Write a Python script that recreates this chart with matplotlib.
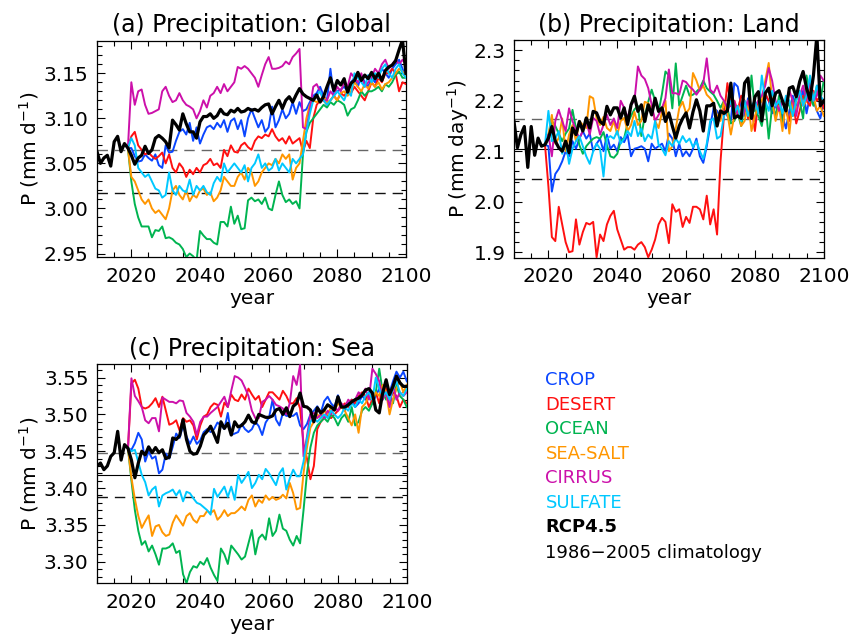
import numpy as np
import matplotlib
matplotlib.use("Agg")
import matplotlib.pyplot as plt
from matplotlib.ticker import MultipleLocator, FormatStrFormatter

plt.rcParams['font.family'] = ['DejaVu Sans']
plt.rcParams['lines.scale_dashes'] = False

# ---------------- DATA ----------------
rcp_start = 2010
exp_start = 2019
legend_names = ['CROP', 'DESERT', 'OCEAN', 'SEA-SALT', 'CIRRUS', 'SULFATE']

# Panel (a) Global
glob_rcp = [3.063, 3.050, 3.056, 3.059, 3.047, 3.074, 3.080, 3.063, 3.072, 3.067,
            3.059, 3.049, 3.056, 3.059, 3.069, 3.061, 3.065, 3.078, 3.081, 3.078,
            3.074, 3.067, 3.098, 3.093, 3.087, 3.105, 3.094, 3.085, 3.085, 3.078,
            3.096, 3.102, 3.102, 3.105, 3.100, 3.103, 3.110, 3.105, 3.104, 3.109,
            3.107, 3.111, 3.107, 3.108, 3.111, 3.109, 3.110, 3.108, 3.112, 3.115,
            3.116, 3.105, 3.113, 3.120, 3.111, 3.120, 3.124, 3.118, 3.126, 3.133,
            3.127, 3.124, 3.122, 3.120, 3.126, 3.118, 3.124, 3.135, 3.145, 3.131,
            3.142, 3.137, 3.144, 3.129, 3.139, 3.142, 3.151, 3.142, 3.148, 3.144,
            3.151, 3.144, 3.150, 3.142, 3.153, 3.157, 3.159, 3.164, 3.176, 3.187,
            3.150]
glob_crop = [3.067,
             3.067, 3.058, 3.052, 3.053, 3.060, 3.056, 3.053, 3.060, 3.048, 3.045,
             3.070, 3.062, 3.063, 3.075, 3.085, 3.088, 3.082, 3.095, 3.075, 3.090,
             3.072, 3.082, 3.090, 3.092, 3.088, 3.095, 3.090, 3.098, 3.085, 3.097,
             3.100, 3.088, 3.098, 3.080, 3.100, 3.110, 3.100, 3.090, 3.098, 3.085,
             3.090, 3.113, 3.090, 3.098, 3.110, 3.100, 3.105, 3.118, 3.105, 3.118,
             3.108, 3.110, 3.118, 3.125, 3.128, 3.135, 3.125, 3.120, 3.155, 3.125,
             3.130, 3.132, 3.135, 3.130, 3.140, 3.145, 3.135, 3.148, 3.140, 3.135,
             3.145, 3.140, 3.148, 3.155, 3.150, 3.145, 3.155, 3.160, 3.165, 3.155,
             3.145]
glob_desert = [3.067,
               3.080, 3.085, 3.070, 3.065, 3.060, 3.062, 3.058, 3.055, 3.058, 3.062,
               3.050, 3.060, 3.045, 3.040, 3.050, 3.045, 3.035, 3.043, 3.038, 3.045,
               3.040, 3.048, 3.050, 3.055, 3.048, 3.050, 3.045, 3.065, 3.058, 3.070,
               3.063, 3.062, 3.070, 3.073, 3.068, 3.065, 3.075, 3.080, 3.078, 3.082,
               3.080, 3.088, 3.080, 3.075, 3.078, 3.072, 3.080, 3.072, 3.075, 3.078,
               3.063, 3.075, 3.067, 3.100, 3.115, 3.120, 3.120, 3.115, 3.120, 3.125,
               3.120, 3.128, 3.125, 3.130, 3.128, 3.135, 3.130, 3.125, 3.120, 3.130,
               3.140, 3.135, 3.145, 3.140, 3.150, 3.150, 3.155, 3.150, 3.130, 3.140,
               3.138]
glob_ocean = [3.067,
              3.030, 3.005, 2.990, 2.980, 2.980, 2.980, 2.968, 2.976, 2.975, 2.980,
              2.967, 2.968, 2.966, 2.962, 2.960, 2.955, 2.946, 2.950, 2.947, 2.942,
              2.975, 2.970, 2.966, 2.966, 2.962, 2.960, 2.985, 2.985, 2.980, 3.002,
              2.983, 2.992, 2.977, 2.978, 3.009, 3.012, 3.008, 3.010, 3.005, 3.012,
              3.000, 2.998, 3.015, 3.030, 3.015, 3.007, 3.010, 3.005, 3.008, 3.000,
              3.060, 3.085, 3.095, 3.100, 3.105, 3.110, 3.115, 3.112, 3.118, 3.115,
              3.120, 3.118, 3.115, 3.103, 3.110, 3.112, 3.120, 3.130, 3.125, 3.130,
              3.130, 3.132, 3.135, 3.130, 3.138, 3.135, 3.140, 3.148, 3.152, 3.145,
              3.145]
glob_seasalt = [3.067,
                3.035, 3.030, 3.020, 3.010, 3.005, 3.010, 3.000, 2.995, 2.998, 2.993,
                2.988, 3.000, 3.020, 3.025, 3.015, 3.010, 3.020, 3.008, 3.015, 3.012,
                3.020, 3.022, 3.015, 3.018, 3.008, 3.012, 3.020, 3.035, 3.030, 3.025,
                3.025, 3.035, 3.040, 3.032, 3.045, 3.040, 3.025, 3.030, 3.040, 3.045,
                3.050, 3.048, 3.055, 3.050, 3.060, 3.055, 3.060, 3.032, 3.045, 3.050,
                3.075, 3.100, 3.115, 3.120, 3.118, 3.120, 3.125, 3.118, 3.120, 3.125,
                3.120, 3.128, 3.130, 3.125, 3.130, 3.140, 3.135, 3.130, 3.138, 3.133,
                3.140, 3.135, 3.140, 3.132, 3.138, 3.140, 3.145, 3.150, 3.155, 3.152,
                3.145]
glob_cirrus = [3.067,
               3.140, 3.115, 3.130, 3.132, 3.115, 3.105, 3.106, 3.108, 3.110, 3.130,
               3.135, 3.125, 3.118, 3.120, 3.128, 3.120, 3.115, 3.113, 3.110, 3.100,
               3.108, 3.120, 3.112, 3.125, 3.128, 3.135, 3.128, 3.138, 3.130, 3.135,
               3.140, 3.157, 3.155, 3.158, 3.155, 3.150, 3.145, 3.135, 3.148, 3.160,
               3.168, 3.155, 3.155, 3.156, 3.158, 3.163, 3.160, 3.168, 3.172, 3.177,
               3.090, 3.088, 3.110, 3.135, 3.138, 3.130, 3.120, 3.120, 3.130, 3.125,
               3.135, 3.130, 3.140, 3.135, 3.150, 3.145, 3.140, 3.150, 3.135, 3.140,
               3.145, 3.155, 3.150, 3.160, 3.165, 3.155, 3.160, 3.165, 3.160, 3.165,
               3.160]
glob_sulfate = [3.067,
                3.078, 3.070, 3.045, 3.040, 3.035, 3.038, 3.030, 3.022, 3.020, 3.012,
                3.015, 3.040, 3.020, 3.015, 3.025, 3.020, 3.018, 3.032, 3.015, 3.025,
                3.020, 3.025, 3.018, 3.015, 3.028, 3.035, 3.030, 3.050, 3.040, 3.045,
                3.050, 3.045, 3.040, 3.048, 3.030, 3.045, 3.050, 3.060, 3.045, 3.050,
                3.042, 3.045, 3.055, 3.042, 3.050, 3.045, 3.040, 3.055, 3.050, 3.055,
                3.060, 3.085, 3.105, 3.120, 3.125, 3.130, 3.120, 3.115, 3.120, 3.125,
                3.130, 3.125, 3.120, 3.130, 3.125, 3.150, 3.145, 3.140, 3.135, 3.148,
                3.140, 3.150, 3.145, 3.155, 3.160, 3.150, 3.145, 3.155, 3.160, 3.150,
                3.145]
glob_clim = [3.0408, 3.0170, 3.0648]   # mean, mean-sd, mean+sd

# Panel (b) Land
land_rcp = [2.159, 2.107, 2.133, 2.149, 2.068, 2.149, 2.092, 2.126, 2.110, 2.113,
            2.126, 2.149, 2.120, 2.107, 2.100, 2.120, 2.097, 2.146, 2.133, 2.159,
            2.140, 2.166, 2.146, 2.179, 2.176, 2.159, 2.153, 2.189, 2.172, 2.186,
            2.186, 2.166, 2.186, 2.153, 2.192, 2.209, 2.179, 2.192, 2.159, 2.192,
            2.172, 2.205, 2.179, 2.186, 2.159, 2.176, 2.150, 2.126, 2.150, 2.165,
            2.176, 2.146, 2.178, 2.202, 2.180, 2.140, 2.190, 2.190, 2.195, 2.150,
            2.180, 2.175, 2.180, 2.235, 2.166, 2.170, 2.165, 2.235, 2.245, 2.165,
            2.208, 2.218, 2.160, 2.215, 2.225, 2.190, 2.215, 2.220, 2.200, 2.180,
            2.225, 2.228, 2.208, 2.238, 2.258, 2.225, 2.202, 2.250, 2.330, 2.190,
            2.200]
land_crop = [2.113,
             2.110, 2.020, 2.055, 2.065, 2.080, 2.100, 2.090, 2.120, 2.105, 2.125,
             2.140, 2.125, 2.135, 2.100, 2.115, 2.125, 2.100, 2.133, 2.105, 2.113,
             2.100, 2.128, 2.118, 2.133, 2.090, 2.105, 2.107, 2.110, 2.105, 2.080,
             2.115, 2.105, 2.110, 2.115, 2.100, 2.135, 2.125, 2.090, 2.115, 2.090,
             2.100, 2.090, 2.105, 2.125, 2.090, 2.077, 2.110, 2.150, 2.185, 2.180,
             2.165, 2.185, 2.170, 2.160, 2.235, 2.228, 2.190, 2.170, 2.205, 2.180,
             2.160, 2.195, 2.175, 2.210, 2.200, 2.175, 2.190, 2.200, 2.170, 2.145,
             2.180, 2.210, 2.190, 2.200, 2.220, 2.175, 2.210, 2.200, 2.180, 2.165,
             2.200]
land_desert = [2.113,
               2.030, 1.930, 1.922, 1.990, 1.955, 1.920, 1.900, 1.902, 1.965, 1.915,
               1.940, 1.958, 1.955, 1.960, 1.890, 1.935, 1.922, 1.955, 1.972, 1.982,
               1.945, 1.925, 1.905, 1.910, 1.910, 1.905, 1.915, 1.920, 1.910, 1.890,
               1.905, 1.925, 1.955, 1.968, 1.960, 1.918, 1.995, 1.980, 1.985, 1.950,
               1.970, 1.958, 1.990, 1.990, 1.985, 1.965, 2.012, 1.955, 1.985, 1.935,
               2.080, 2.170, 2.235, 2.190, 2.200, 2.180, 2.210, 2.200, 2.165, 2.185,
               2.140, 2.200, 2.180, 2.215, 2.200, 2.190, 2.170, 2.195, 2.200, 2.180,
               2.160, 2.200, 2.155, 2.180, 2.210, 2.200, 2.190, 2.220, 2.200, 2.210,
               2.185]
land_ocean = [2.113,
              2.133, 2.160, 2.150, 2.135, 2.120, 2.135, 2.145, 2.182, 2.145, 2.112,
              2.095, 2.110, 2.118, 2.125, 2.128, 2.125, 2.138, 2.112, 2.090, 2.087,
              2.095, 2.120, 2.126, 2.155, 2.170, 2.183, 2.190, 2.130, 2.170, 2.198,
              2.222, 2.200, 2.178, 2.214, 2.258, 2.250, 2.185, 2.274, 2.190, 2.210,
              2.230, 2.210, 2.212, 2.218, 2.225, 2.240, 2.225, 2.218, 2.212, 2.200,
              2.186, 2.200, 2.186, 2.155, 2.160, 2.175, 2.150, 2.190, 2.170, 2.250,
              2.180, 2.170, 2.150, 2.200, 2.125, 2.190, 2.170, 2.210, 2.150, 2.200,
              2.190, 2.170, 2.210, 2.200, 2.165, 2.250, 2.210, 2.190, 2.230, 2.200,
              2.240]
land_seasalt = [2.113,
                2.133, 2.172, 2.115, 2.126, 2.165, 2.100, 2.133, 2.152, 2.120, 2.160,
                2.152, 2.146, 2.209, 2.205, 2.165, 2.152, 2.168, 2.146, 2.140, 2.160,
                2.133, 2.160, 2.166, 2.140, 2.152, 2.178, 2.152, 2.160, 2.198, 2.195,
                2.185, 2.160, 2.146, 2.178, 2.200, 2.100, 2.110, 2.145, 2.185, 2.198,
                2.175, 2.185, 2.255, 2.240, 2.220, 2.230, 2.212, 2.205, 2.195, 2.170,
                2.160, 2.200, 2.175, 2.133, 2.170, 2.190, 2.150, 2.160, 2.200, 2.140,
                2.170, 2.190, 2.200, 2.240, 2.275, 2.200, 2.160, 2.190, 2.140, 2.200,
                2.135, 2.200, 2.180, 2.210, 2.190, 2.200, 2.230, 2.210, 2.180, 2.190,
                2.170]
land_cirrus = [2.113,
               2.133, 2.090, 2.160, 2.182, 2.160, 2.140, 2.185, 2.160, 2.140, 2.126,
               2.140, 2.160, 2.133, 2.166, 2.160, 2.133, 2.152, 2.172, 2.152, 2.165,
               2.146, 2.200, 2.186, 2.166, 2.192, 2.200, 2.268, 2.250, 2.243, 2.225,
               2.192, 2.160, 2.172, 2.186, 2.205, 2.262, 2.215, 2.215, 2.212, 2.240,
               2.237, 2.228, 2.222, 2.212, 2.222, 2.235, 2.284, 2.222, 2.215, 2.230,
               2.210, 2.200, 2.186, 2.190, 2.200, 2.170, 2.165, 2.180, 2.200, 2.170,
               2.190, 2.200, 2.210, 2.230, 2.265, 2.240, 2.200, 2.180, 2.200, 2.190,
               2.220, 2.200, 2.170, 2.210, 2.230, 2.200, 2.240, 2.200, 2.210, 2.250,
               2.240]
land_sulfate = [2.113,
                2.180, 2.120, 2.125, 2.140, 2.095, 2.120, 2.075, 2.105, 2.120, 2.130,
                2.110, 2.090, 2.075, 2.100, 2.115, 2.105, 2.050, 2.125, 2.130, 2.125,
                2.140, 2.115, 2.125, 2.140, 2.130, 2.160, 2.130, 2.145, 2.120, 2.133,
                2.125, 2.160, 2.113, 2.105, 2.092, 2.120, 2.110, 2.125, 2.115, 2.130,
                2.118, 2.125, 2.108, 2.120, 2.100, 2.085, 2.115, 2.160, 2.165, 2.125,
                2.130, 2.170, 2.180, 2.200, 2.175, 2.190, 2.160, 2.200, 2.170, 2.190,
                2.200, 2.175, 2.250, 2.200, 2.180, 2.220, 2.190, 2.200, 2.175, 2.210,
                2.200, 2.170, 2.200, 2.220, 2.190, 2.210, 2.250, 2.200, 2.230, 2.210,
                2.200]
land_clim = [2.104, 2.045, 2.164]

# Panel (c) Sea
sea_rcp = [3.430, 3.434, 3.425, 3.430, 3.443, 3.448, 3.477, 3.438, 3.459, 3.454,
           3.438, 3.414, 3.434, 3.450, 3.445, 3.456, 3.448, 3.455, 3.448, 3.452,
           3.440, 3.442, 3.468, 3.466, 3.471, 3.493, 3.466, 3.450, 3.446, 3.447,
           3.457, 3.472, 3.477, 3.484, 3.473, 3.462, 3.490, 3.481, 3.488, 3.472,
           3.490, 3.483, 3.485, 3.490, 3.499, 3.490, 3.488, 3.500, 3.498, 3.496,
           3.496, 3.498, 3.506, 3.508, 3.500, 3.509, 3.497, 3.511, 3.515, 3.529,
           3.511, 3.510, 3.506, 3.490, 3.509, 3.502, 3.506, 3.513, 3.510, 3.506,
           3.524, 3.510, 3.510, 3.513, 3.517, 3.520, 3.522, 3.526, 3.533, 3.535,
           3.529, 3.506, 3.502, 3.529, 3.547, 3.527, 3.538, 3.552, 3.543, 3.538,
           3.538]
sea_crop = [3.454,
            3.452, 3.461, 3.475, 3.466, 3.436, 3.450, 3.440, 3.443, 3.420, 3.425,
            3.447, 3.440, 3.456, 3.474, 3.468, 3.485, 3.470, 3.460, 3.470, 3.460,
            3.465, 3.476, 3.480, 3.476, 3.480, 3.489, 3.485, 3.480, 3.502, 3.472,
            3.474, 3.476, 3.487, 3.480, 3.476, 3.480, 3.490, 3.484, 3.472, 3.489,
            3.496, 3.520, 3.493, 3.485, 3.502, 3.498, 3.498, 3.498, 3.502, 3.485,
            3.480, 3.487, 3.500, 3.505, 3.511, 3.502, 3.518, 3.524, 3.515, 3.510,
            3.526, 3.512, 3.505, 3.515, 3.520, 3.510, 3.515, 3.525, 3.520, 3.530,
            3.515, 3.525, 3.535, 3.520, 3.540, 3.530, 3.545, 3.558, 3.550, 3.558,
            3.545]
sea_desert = [3.454,
              3.542, 3.547, 3.535, 3.510, 3.508, 3.510, 3.515, 3.522, 3.510, 3.524,
              3.505, 3.486, 3.488, 3.492, 3.478, 3.495, 3.490, 3.492, 3.485, 3.466,
              3.485, 3.497, 3.500, 3.510, 3.515, 3.513, 3.497, 3.516, 3.510, 3.527,
              3.520, 3.518, 3.527, 3.520, 3.535, 3.527, 3.520, 3.525, 3.510, 3.520,
              3.530, 3.530, 3.525, 3.520, 3.532, 3.525, 3.515, 3.515, 3.522, 3.508,
              3.460, 3.440, 3.412, 3.430, 3.480, 3.490, 3.495, 3.498, 3.495, 3.500,
              3.505, 3.510, 3.515, 3.510, 3.520, 3.515, 3.525, 3.530, 3.525, 3.510,
              3.520, 3.530, 3.515, 3.540, 3.535, 3.520, 3.530, 3.525, 3.510, 3.520,
              3.515]
sea_ocean = [3.454,
             3.410, 3.370, 3.342, 3.323, 3.328, 3.314, 3.322, 3.310, 3.296, 3.318,
             3.318, 3.320, 3.325, 3.312, 3.315, 3.283, 3.271, 3.286, 3.294, 3.292,
             3.300, 3.296, 3.305, 3.292, 3.282, 3.274, 3.318, 3.310, 3.297, 3.322,
             3.316, 3.310, 3.303, 3.307, 3.325, 3.343, 3.310, 3.332, 3.337, 3.330,
             3.359, 3.335, 3.342, 3.364, 3.345, 3.342, 3.330, 3.322, 3.335, 3.325,
             3.370, 3.420, 3.455, 3.475, 3.485, 3.490, 3.495, 3.490, 3.500, 3.495,
             3.485, 3.495, 3.500, 3.490, 3.510, 3.485, 3.490, 3.505, 3.510, 3.505,
             3.515, 3.530, 3.562, 3.530, 3.520, 3.530, 3.515, 3.540, 3.525, 3.520,
             3.510]
sea_seasalt = [3.454,
               3.414, 3.385, 3.362, 3.346, 3.355, 3.363, 3.335, 3.348, 3.350, 3.340,
               3.335, 3.337, 3.353, 3.363, 3.356, 3.349, 3.362, 3.366, 3.357, 3.353,
               3.362, 3.362, 3.369, 3.366, 3.370, 3.357, 3.362, 3.370, 3.362, 3.366,
               3.366, 3.370, 3.375, 3.370, 3.384, 3.390, 3.375, 3.384, 3.380, 3.390,
               3.384, 3.388, 3.384, 3.386, 3.391, 3.386, 3.407, 3.393, 3.371, 3.373,
               3.420, 3.455, 3.482, 3.490, 3.500, 3.495, 3.505, 3.500, 3.510, 3.505,
               3.515, 3.510, 3.505, 3.495, 3.485, 3.500, 3.475, 3.510, 3.515, 3.525,
               3.520, 3.530, 3.525, 3.540, 3.530, 3.500, 3.520, 3.535, 3.545, 3.530,
               3.540]
sea_cirrus = [3.454,
              3.549, 3.525, 3.518, 3.510, 3.492, 3.488, 3.495, 3.495, 3.477, 3.523,
              3.520, 3.517, 3.517, 3.515, 3.519, 3.518, 3.502, 3.497, 3.490, 3.472,
              3.490, 3.497, 3.497, 3.502, 3.506, 3.510, 3.517, 3.524, 3.510, 3.532,
              3.552, 3.550, 3.546, 3.536, 3.525, 3.505, 3.495, 3.495, 3.517, 3.520,
              3.525, 3.520, 3.513, 3.511, 3.508, 3.500, 3.515, 3.552, 3.540, 3.567,
              3.443, 3.470, 3.500, 3.502, 3.495, 3.500, 3.495, 3.505, 3.500, 3.510,
              3.505, 3.515, 3.510, 3.520, 3.515, 3.520, 3.530, 3.525, 3.535, 3.520,
              3.562, 3.555, 3.545, 3.520, 3.530, 3.510, 3.540, 3.520, 3.530, 3.525,
              3.530]
sea_sulfate = [3.454,
               3.450, 3.452, 3.435, 3.418, 3.408, 3.390, 3.398, 3.402, 3.375, 3.390,
               3.393, 3.395, 3.398, 3.390, 3.397, 3.382, 3.395, 3.393, 3.386, 3.380,
               3.378, 3.374, 3.370, 3.364, 3.399, 3.388, 3.395, 3.402, 3.388, 3.402,
               3.384, 3.418, 3.407, 3.414, 3.422, 3.400, 3.407, 3.418, 3.412, 3.426,
               3.420, 3.412, 3.404, 3.420, 3.427, 3.398, 3.413, 3.425, 3.416, 3.416,
               3.436, 3.466, 3.490, 3.495, 3.490, 3.495, 3.500, 3.495, 3.505, 3.500,
               3.495, 3.500, 3.510, 3.505, 3.515, 3.510, 3.520, 3.515, 3.525, 3.530,
               3.520, 3.550, 3.535, 3.525, 3.530, 3.520, 3.535, 3.545, 3.530, 3.525,
               3.535]
sea_clim = [3.418, 3.388, 3.448]

# ---------------- PLOT ----------------
colors = ['#0a46ff', '#ff1010', '#00b450', '#ff9600', '#cc10aa', '#00c8ff']
rcp_color = 'black'

panels = [
    dict(title='(a) Precipitation: Global', ylabel='P (mm d$^{-1}$)',
         rcp=glob_rcp, exps=[glob_crop, glob_desert, glob_ocean, glob_seasalt, glob_cirrus, glob_sulfate],
         clim=glob_clim, ylim=(2.946, 3.186), major=0.05, minor=0.01, fmt='%.2f',
         rect=[0.114, 0.597, 0.363, 0.339]),
    dict(title='(b) Precipitation: Land', ylabel='P (mm day$^{-1}$)',
         rcp=land_rcp, exps=[land_crop, land_desert, land_ocean, land_seasalt, land_cirrus, land_sulfate],
         clim=land_clim, ylim=(1.889, 2.32), major=0.1, minor=0.02, fmt='%.1f',
         rect=[0.604, 0.596, 0.364, 0.341]),
    dict(title='(c) Precipitation: Sea', ylabel='P (mm d$^{-1}$)',
         rcp=sea_rcp, exps=[sea_crop, sea_desert, sea_ocean, sea_seasalt, sea_cirrus, sea_sulfate],
         clim=sea_clim, ylim=(3.271, 3.568), major=0.05, minor=0.01, fmt='%.2f',
         rect=[0.114, 0.086, 0.364, 0.343]),
]

fig = plt.figure(figsize=(8.51, 6.38), dpi=100)

for p in panels:
    ax = fig.add_axes(p['rect'])
    yrs_rcp = np.arange(rcp_start, rcp_start + len(p['rcp']))
    for vals, c, name in zip(p['exps'], colors, legend_names):
        assert len(vals) == 82, (p['title'], name, len(vals))
        yrs = np.arange(exp_start, exp_start + len(vals))
        ax.plot(yrs, vals, color=c, lw=1.4, zorder=3)
    assert len(p['rcp']) == 91, (p['title'], len(p['rcp']))
    ax.plot(yrs_rcp, p['rcp'], color=rcp_color, lw=2.3, zorder=4)
    m, lo, hi = p['clim']
    ax.axhline(m, color='black', lw=0.8, zorder=2)
    ax.axhline(lo, color='#111111', lw=1.0, dashes=(7.5, 5), zorder=2)
    ax.axhline(hi, color='#666666', lw=1.0, dashes=(7.5, 5), zorder=2)
    ax.set_xlim(2010, 2100)
    ax.set_ylim(*p['ylim'])
    ax.xaxis.set_major_locator(MultipleLocator(20))
    ax.xaxis.set_minor_locator(MultipleLocator(5))
    ax.yaxis.set_major_locator(MultipleLocator(p['major']))
    ax.yaxis.set_minor_locator(MultipleLocator(p['minor']))
    ax.yaxis.set_major_formatter(FormatStrFormatter(p['fmt']))
    ax.tick_params(which='both', direction='in', top=True, right=True, width=0.8,
                   labelsize=14.5, colors='black')
    ax.tick_params(which='major', length=6, pad=6)
    ax.tick_params(which='minor', length=3.5)
    ax.tick_params(axis='x', which='major', pad=7)
    for s in ax.spines.values():
        s.set_linewidth(0.9)
    ax.set_title(p['title'], fontsize=17, pad=6)
    ax.set_ylabel(p['ylabel'], fontsize=14.5, labelpad=2)
    ax.set_xlabel('year', fontsize=14.5, labelpad=2)

# legend as text
leg_x = 0.641
leg_y = [380, 404.5, 429, 454, 478, 503]
for name, c, y in zip(legend_names, colors, leg_y):
    fig.text(leg_x, 1 - y / 638, name, color=c, fontsize=13, va='center', ha='left')
fig.text(leg_x, 1 - 527 / 638, 'RCP4.5', color='black', fontsize=13, va='center', ha='left',
         fontweight='bold')
fig.text(leg_x, 1 - 553 / 638, '1986\u22122005 climatology', color='black', fontsize=13,
         va='center', ha='left')

fig.savefig('out.png', dpi=100)
